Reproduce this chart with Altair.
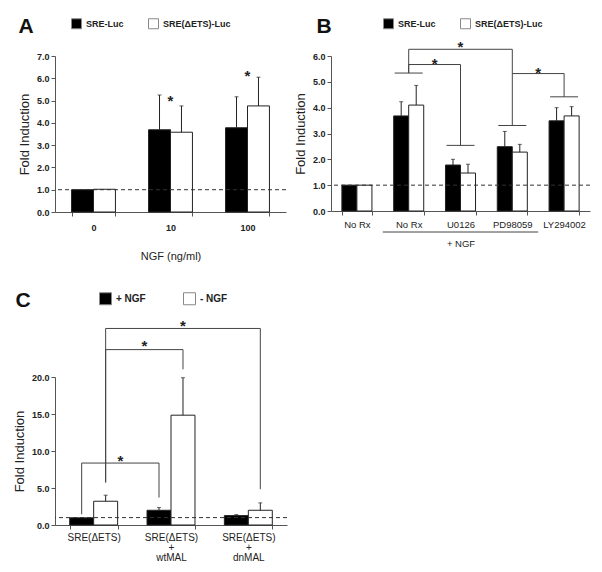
import altair as alt
import pandas as pd

WIDE = "Liberation Sans, Arial, sans-serif"
INK = "#222222"

# ---------------- Panel A ----------------
a_groups = ["0", "10", "100"]
a_series = ["SRE-Luc", "SRE(ΔETS)-Luc"]
a_black = [1.0, 3.69, 3.78]
a_black_err = [0.0, 1.56, 1.39]
a_white = [1.02, 3.58, 4.76]
a_white_err = [0.0, 1.18, 1.29]
a_star_idx = [1, 2]
a_star_y = [5.14, 6.28]
a_yticks = [0, 1, 2, 3, 4, 5, 6, 7]

# ---------------- Panel B ----------------
b_groups = ["No Rx", "No Rx ", "U0126", "PD98059", "LY294002"]
b_series = ["SRE-Luc", "SRE(ΔETS)-Luc"]
b_black = [1.0, 3.68, 1.78, 2.49, 3.49]
b_black_err = [0.0, 0.55, 0.22, 0.59, 0.51]
b_white = [1.0, 4.10, 1.47, 2.28, 3.68]
b_white_err = [0.0, 0.76, 0.34, 0.30, 0.36]
b_cap_idx = [1, 2, 3, 4]
b_cap_y = [5.34, 2.54, 3.31, 4.42]
b_br_from = [1, 1, 3]
b_br_to = [2, 3, 4]
b_br_y_from = [5.34, 5.34, 5.32]
b_br_y_top = [5.67, 6.26, 5.32]
b_br_y_to = [2.54, 3.31, 4.42]
b_star_y = [5.85, 6.51, 5.50]
b_ngf_from = 1
b_ngf_to = 3
b_yticks = [0, 1, 2, 3, 4, 5, 6]

# ---------------- Panel C ----------------
c_groups = ["SRE(ΔETS)", "SRE(ΔETS)|+|wtMAL", "SRE(ΔETS)|+|dnMAL"]
c_series = ["+ NGF", "- NGF"]
c_black = [0.97, 1.99, 1.27]
c_black_err = [0.0, 0.36, 0.13]
c_white = [3.21, 14.84, 1.99]
c_white_err = [0.82, 5.06, 1.00]
c_br_from = [0, 0, 0]
c_br_to = [1, 1, 2]
c_br_side = [-1, 1, 1]
c_br_y_from = [1.45, 5.75, 5.75]
c_br_y_top = [8.37, 23.7, 26.56]
c_br_y_to = [3.71, 21.04, 4.84]
c_star_y = [9.14, 24.75, 27.47]
c_yticks = [0, 5, 10, 15, 20]

baseline = 1.0


def bar_table(groups, series, black, black_err, white, white_err):
    rows = []
    for i, g in enumerate(groups):
        for side, s, v, e in ((-1, series[0], black[i], black_err[i]), (1, series[1], white[i], white_err[i])):
            rows.append({"group": g, "gi": i, "side": side, "series": s, "v": v, "v2": v + e, "e": e})
    return pd.DataFrame(rows)


def bracket_table(fr, to, side, y_from, y_top, y_to):
    rows = []
    for k in range(len(fr)):
        pts = [(fr[k], y_from[k]), (fr[k], y_top[k]), (to[k], y_top[k]), (to[k], y_to[k])]
        for o, (gi, yy) in enumerate(pts):
            rows.append({"b": k, "o": o, "gi": gi, "side": side[k], "v": yy})
    return pd.DataFrame(rows)


def star_table(fr, to, side, ys):
    return pd.DataFrame({"gi": [(a + b) / 2 for a, b in zip(fr, to)], "side": side, "v": ys})


def panel(groups, series, black, black_err, white, white_err, yticks,
          width, height, pin, xaxis, legend, title, brackets=None, caps=None,
          stars=None, underline=None):
    n = len(groups)
    off = (1 - pin) / 4.0
    df = bar_table(groups, series, black, black_err, white, white_err)
    xband = alt.Scale(domain=groups, paddingInner=pin, paddingOuter=pin / 2)
    ysc = alt.Scale(domain=[yticks[0], yticks[-1]], nice=False, zero=True)
    yaxis = alt.Axis(values=yticks, format=".1f", labelFont=WIDE, labelFontSize=9,
                     labelFontWeight="bold", labelColor=INK, tickSize=4, tickColor="#555",
                     domainColor="#555", grid=False, title="Fold Induction",
                     titleFont=WIDE, titleFontSize=13, titleFontWeight="normal",
                     titleColor=INK, titlePadding=5, labelPadding=2)
    linx = alt.Scale(domain=[0, n], nice=False, zero=False)

    axis_layer = alt.Chart(pd.DataFrame({"group": groups})).mark_rule(opacity=0).encode(
        x=alt.X("group:N", scale=xband, sort=groups, axis=xaxis))

    base = alt.Chart(df).transform_calculate(
        xa=f"datum.gi + 0.5 + (datum.side < 0 ? {-2 * off} : 0)",
        xb=f"datum.gi + 0.5 + (datum.side < 0 ? 0 : {2 * off})",
        xc=f"datum.gi + 0.5 + datum.side * {off}",
    )
    bars = base.mark_rect(stroke=INK, strokeWidth=1).encode(
        x=alt.X("xa:Q", scale=linx, axis=None), x2="xb:Q",
        y=alt.Y("v:Q", scale=ysc, axis=yaxis), y2=alt.datum(0),
        fill=alt.Fill("series:N", scale=alt.Scale(domain=series, range=["#000000", "#ffffff"]),
                      legend=legend),
    )
    errs = base.transform_filter("datum.e > 0").mark_rule(color=INK, strokeWidth=1).encode(
        x=alt.X("xc:Q", scale=linx, axis=None),
        y=alt.Y("v:Q", scale=ysc, axis=yaxis),
        y2="v2:Q",
    )
    errcaps = base.transform_filter("datum.e > 0").mark_tick(
        color=INK, size=4, thickness=1, orient="horizontal").encode(
        x=alt.X("xc:Q", scale=linx, axis=None),
        y=alt.Y("v2:Q", scale=ysc, axis=yaxis),
    )
    dash = alt.Chart(pd.DataFrame({"v": [baseline]})).mark_rule(
        color="#333", strokeDash=[4, 3], strokeWidth=1).encode(y=alt.Y("v:Q", scale=ysc, axis=yaxis))
    layers = [axis_layer, bars, errs, errcaps, dash]

    if brackets is not None:
        bl = alt.Chart(brackets).transform_calculate(
            xp=f"datum.gi + 0.5 + datum.side * {off}").mark_line(
            color="#444", strokeWidth=1, interpolate="linear").encode(
            x=alt.X("xp:Q", scale=linx, axis=None),
            y=alt.Y("v:Q", scale=ysc, axis=yaxis),
            detail="b:N", order="o:Q")
        layers.append(bl)
    if caps is not None:
        cl = alt.Chart(caps).transform_calculate(
            xa="datum.gi + 0.5 - 0.27", xb="datum.gi + 0.5 + 0.27").mark_rule(
            color="#444", strokeWidth=1).encode(
            x=alt.X("xa:Q", scale=linx, axis=None), x2="xb:Q",
            y=alt.Y("v:Q", scale=ysc, axis=yaxis))
        layers.append(cl)
    if stars is not None:
        sl = alt.Chart(stars).transform_calculate(
            xp=f"datum.gi + 0.5 + datum.side * {off}").mark_text(
            text="*", font=WIDE, fontSize=15, fontWeight="bold", color=INK, dy=4).encode(
            x=alt.X("xp:Q", scale=linx, axis=None),
            y=alt.Y("v:Q", scale=ysc, axis=yaxis))
        layers.append(sl)
    if underline is not None:
        ul = alt.Chart(underline).mark_rule(color="#444", strokeWidth=1).encode(
            x=alt.X("xa:Q", scale=linx, axis=None), x2="xb:Q",
            y=alt.value(height + 21))
        layers.append(ul)

    return alt.layer(*layers).resolve_scale(x="independent").properties(
        width=width, height=height, title=title)


def legend_params(x, y, size, fs, colpad):
    return alt.Legend(orient="none", legendX=x, legendY=y, direction="horizontal", title=None,
                      symbolType="square", symbolSize=size, symbolStrokeColor="#888",
                      symbolStrokeWidth=1, labelFont=WIDE, labelFontSize=fs,
                      labelFontWeight="bold", labelColor=INK, columnPadding=colpad,
                      labelOffset=4, padding=0)


def letter_title(t, dx, dy):
    return alt.TitleParams(t, anchor="start", frame="bounds", font=WIDE, fontSize=21,
                           fontWeight="bold", color="#111", dx=dx, dy=dy, offset=0)


xaxis_a = alt.Axis(title="NGF (ng/ml)", labelAngle=0, labelFont=WIDE, labelFontSize=9,
                   labelFontWeight="bold", labelColor=INK, tickBand="extent", tickSize=4,
                   tickColor="#555", domainColor="#555", labelPadding=7,
                   titleFont=WIDE, titleFontSize=11, titleFontWeight="normal",
                   titleColor=INK, titlePadding=18)
xaxis_b = alt.Axis(title="+ NGF", labelAngle=0, labelFont=WIDE, labelFontSize=9.5,
                   labelFontWeight="normal", labelColor=INK, tickBand="extent", tickSize=4,
                   tickColor="#555", domainColor="#555", labelPadding=4,
                   titleFont=WIDE, titleFontSize=9.5, titleFontWeight="normal",
                   titleColor=INK, titlePadding=10)
xaxis_c = alt.Axis(title=None, labelAngle=0, labelFont=WIDE, labelFontSize=10,
                   labelFontWeight="normal", labelColor=INK, tickBand="extent", tickSize=4,
                   tickColor="#555", domainColor="#555", labelPadding=3,
                   labelExpr="split(datum.label, '|')", labelLineHeight=10)

chart_a = panel(a_groups, a_series, a_black, a_black_err, a_white, a_white_err, a_yticks,
                231, 156, 0.43, xaxis_a, legend_params(16, -38, 100, 9, 22),
                letter_title("A", 0, 19),
                stars=star_table(a_star_idx, a_star_idx, [0, 0], a_star_y))

b_caps = pd.DataFrame({"gi": b_cap_idx, "v": b_cap_y})
b_under = pd.DataFrame({"xa": [b_ngf_from], "xb": [b_ngf_to + 1]})
chart_b = panel(b_groups, b_series, b_black, b_black_err, b_white, b_white_err, b_yticks,
                259, 155, 0.42, xaxis_b, legend_params(52, -38, 100, 9, 22),
                letter_title("B", 22, 19),
                brackets=bracket_table(b_br_from, b_br_to, [0, 0, 0], b_br_y_from, b_br_y_top, b_br_y_to),
                caps=b_caps,
                stars=star_table(b_br_from, b_br_to, [0, 0, 0], b_star_y),
                underline=b_under)

chart_c = panel(c_groups, c_series, c_black, c_black_err, c_white, c_white_err, c_yticks,
                232, 148, 0.38, xaxis_c, legend_params(44, -85, 144, 10, 35),
                letter_title("C", 2, 19),
                brackets=bracket_table(c_br_from, c_br_to, c_br_side, c_br_y_from, c_br_y_top, c_br_y_to),
                stars=star_table(c_br_from, c_br_to, c_br_side, c_star_y))

row1 = alt.hconcat(chart_a, chart_b, spacing=7).resolve_scale(fill="independent")
chart = alt.vconcat(row1, chart_c, spacing=29).resolve_scale(fill="independent").properties(
    padding={"left": 5, "top": 8, "right": 0, "bottom": 0}).configure_view(stroke=None)

chart.save("out.html", embed_options={"renderer": "svg", "actions": False})
